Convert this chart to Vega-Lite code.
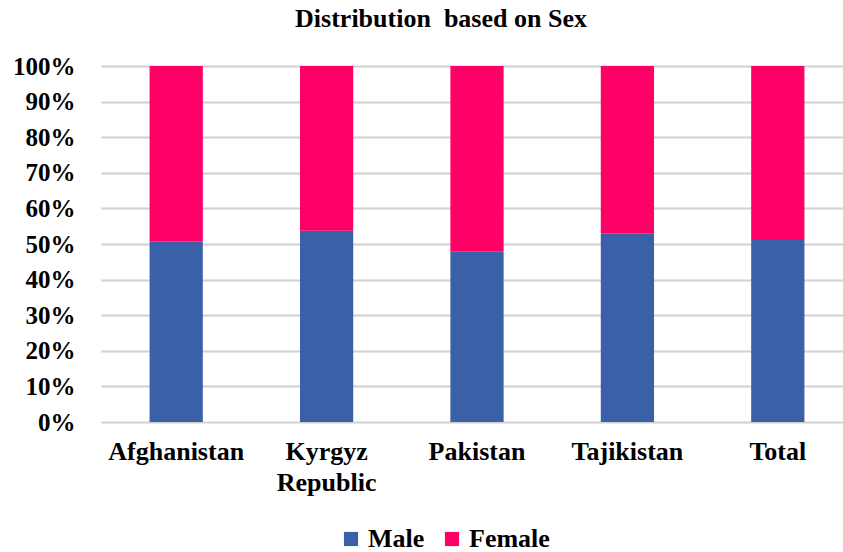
{
  "$schema": "https://vega.github.io/schema/vega-lite/v6.json",
  "autosize": {"type": "none"},
  "width": 742,
  "height": 356,
  "padding": {"left": 101, "top": 66, "right": 0, "bottom": 130},
  "background": "white",
  "title": {
    "text": "Distribution\u00a0 based on Sex",
    "font": "Liberation Serif",
    "fontWeight": "bold",
    "fontSize": 26,
    "color": "#000000",
    "anchor": "middle",
    "frame": "group",
    "dx": -31,
    "offset": 22
  },
  "data": {
    "values": [
      {"Country": "Afghanistan", "Sex": "Male", "Share": 0.508},
      {"Country": "Afghanistan", "Sex": "Female", "Share": 0.492},
      {"Country": "Kyrgyz Republic", "Sex": "Male", "Share": 0.537},
      {"Country": "Kyrgyz Republic", "Sex": "Female", "Share": 0.463},
      {"Country": "Pakistan", "Sex": "Male", "Share": 0.478},
      {"Country": "Pakistan", "Sex": "Female", "Share": 0.522},
      {"Country": "Tajikistan", "Sex": "Male", "Share": 0.530},
      {"Country": "Tajikistan", "Sex": "Female", "Share": 0.470},
      {"Country": "Total", "Sex": "Male", "Share": 0.511},
      {"Country": "Total", "Sex": "Female", "Share": 0.489}
    ]
  },
  "mark": {"type": "bar"},
  "encoding": {
    "x": {
      "field": "Country",
      "type": "nominal",
      "sort": null,
      "scale": {"range": [0, 752], "paddingInner": 0.646, "paddingOuter": 0.323},
      "axis": {
        "title": null,
        "labelAngle": 0,
        "domain": false,
        "ticks": false,
        "labelFont": "Liberation Serif",
        "labelFontWeight": "bold",
        "labelFontSize": 26,
        "labelColor": "#000000",
        "labelPadding": 16,
        "labelLineHeight": 31,
        "labelExpr": "datum.label == 'Kyrgyz Republic' ? ['Kyrgyz', 'Republic'] : datum.label"
      }
    },
    "y": {
      "field": "Share",
      "type": "quantitative",
      "stack": true,
      "scale": {"domain": [0, 1], "nice": false},
      "axis": {
        "title": null,
        "values": [0, 0.1, 0.2, 0.3, 0.4, 0.5, 0.6, 0.7, 0.8, 0.9, 1],
        "format": ".0%",
        "domain": false,
        "ticks": false,
        "grid": true,
        "gridColor": "#d0d0d0",
        "gridWidth": 2,
        "labelFont": "Liberation Serif",
        "labelFontWeight": "bold",
        "labelFontSize": 25,
        "labelColor": "#000000",
        "labelPadding": 26
      }
    },
    "color": {
      "field": "Sex",
      "type": "nominal",
      "scale": {"domain": ["Male", "Female"], "range": ["#3A61A8", "#FF0066"]},
      "legend": {
        "title": null,
        "orient": "none",
        "direction": "horizontal",
        "legendX": 237,
        "legendY": 460,
        "symbolType": "square",
        "symbolSize": 200,
        "symbolStrokeWidth": 0,
        "labelFont": "Liberation Serif",
        "labelFontWeight": "bold",
        "labelFontSize": 26,
        "labelColor": "#000000",
        "columnPadding": 14,
        "labelOffset": 4
      }
    },
    "order": {"field": "Sex", "sort": "descending"}
  },
  "config": {"view": {"stroke": null}}
}
